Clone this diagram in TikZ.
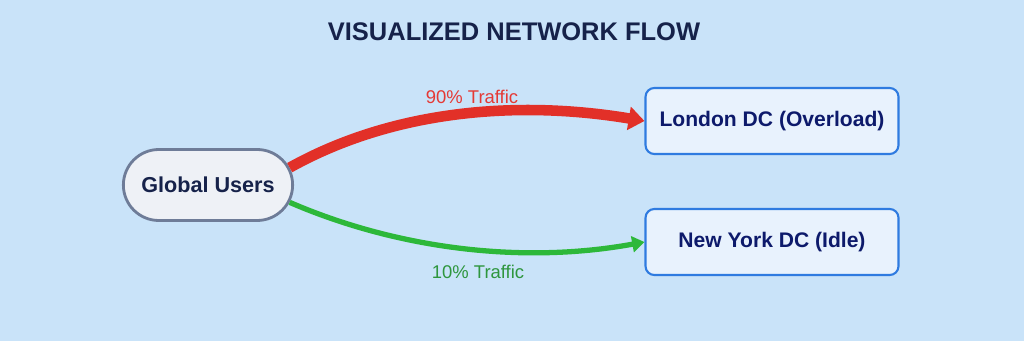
\documentclass[tikz,border=0pt]{standalone}
\usepackage{fontspec}
\setmainfont{Liberation Sans}
\definecolor{bgblue}{RGB}{201, 227, 249}
\definecolor{titlenavy}{RGB}{22, 34, 74}
\definecolor{textnavy}{RGB}{13, 26, 107}
\definecolor{pillfill}{RGB}{238, 241, 246}
\definecolor{pillgray}{RGB}{110, 124, 152}
\definecolor{dcfill}{RGB}{232, 242, 253}
\definecolor{dcblue}{RGB}{47, 123, 224}
\definecolor{flowred}{RGB}{226, 48, 40}
\definecolor{flowgreen}{RGB}{45, 184, 58}
\definecolor{labelred}{RGB}{229, 57, 53}
\definecolor{labelgreen}{RGB}{46, 150, 62}
\usepackage{tikz}
\usetikzlibrary{shapes.misc, arrows.meta, positioning}
\tikzset{
    userpill/.style={draw=pillgray, fill=pillfill, rounded rectangle, line width=1.6pt, minimum width=3.62cm, minimum height=1.42cm, font=\bfseries\fontsize{12.3}{15}\selectfont, text=titlenavy},
    dcbox/.style={draw=dcblue, fill=dcfill, rectangle, rounded corners=5pt, line width=1.2pt, minimum width=5.06cm, minimum height=1.32cm, font=\bfseries\fontsize{12}{15}\selectfont, text=textnavy},
    redflow/.style={-{Triangle[length=9pt, width=13pt]}, line width=6pt, draw=flowred},
    greenflow/.style={-{Triangle[length=7pt, width=9pt]}, line width=3pt, draw=flowgreen},
    flowlabel/.style={font=\fontsize{10.5}{12}\selectfont},
}
\begin{document}
\begin{tikzpicture}[x=0.02cm, y=-0.02cm]
    % Background
    \fill[bgblue] (0,0) rectangle (1024,341);
    \useasboundingbox (0,0) rectangle (1024,341);

    % Title
    \node[font=\bfseries\fontsize{14.5}{17}\selectfont, text=titlenavy] (title) at (514,32) {VISUALIZED NETWORK FLOW};

    % Users
    \node[userpill] (users) at (208,185) {Global Users};

    % Data centers
    \node[dcbox] (london) at (772,121) {London DC (Overload)};
    \node[dcbox] (newyork) at (772,242) {New York DC (Idle)};

    % Flows
    \draw[redflow] (users.12) .. controls +(104,-58) and +(-126,-21) .. (london.west);
    \draw[greenflow] (users.-12) .. controls +(104,45) and +(-126,23) .. (newyork.west);

    % Labels
    \node[flowlabel, text=labelred] (redlabel) at (472,97) {90\% Traffic};
    \node[flowlabel, text=labelgreen] (greenlabel) at (478,272) {10\% Traffic};
\end{tikzpicture}
\end{document}
